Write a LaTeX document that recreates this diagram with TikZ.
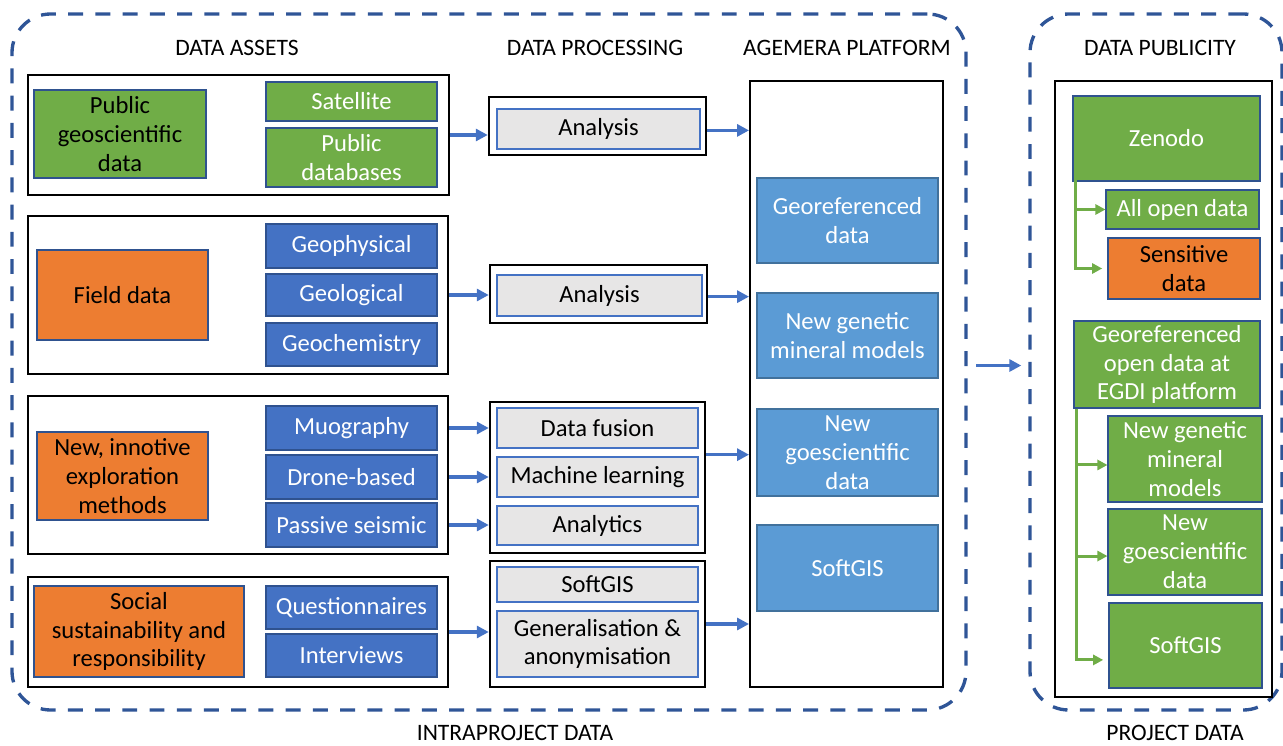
\documentclass[tikz,border=0pt]{standalone}
\usepackage{fontspec}
\setmainfont{Carlito}
\usepackage{tikz}
\usetikzlibrary{arrows.meta, positioning, calc}

\definecolor{dashblue}{HTML}{2F5597}
\definecolor{arrblue}{HTML}{4472C4}
\definecolor{boxgreen}{HTML}{70AD47}
\definecolor{boxorange}{HTML}{ED7D31}
\definecolor{boxblue}{HTML}{4472C4}
\definecolor{boxgrey}{HTML}{E7E6E6}
\definecolor{platblue}{HTML}{5B9BD5}
\definecolor{edgeblue}{HTML}{2F528F}
\definecolor{platedge}{HTML}{41719C}

\begin{document}
\begin{tikzpicture}[
    x=0.02cm, y=-0.02cm,
    sz/.style 2 args={minimum width=#1*0.02cm, minimum height=#2*0.02cm},
    txt/.style={font=\fontsize{14}{16.4}\selectfont},
    head/.style={font=\fontsize{13.4}{16}\selectfont, inner sep=1pt},
    cont/.style={rectangle, draw=dashblue, line width=1.9pt, dash pattern=on 8.5pt off 7pt, rounded corners=22pt},
    group/.style={rectangle, draw=black, line width=1.4pt},
    cell/.style={rectangle, txt, align=center, inner sep=1pt, line width=0.6pt},
    gbox/.style={cell, fill=boxgreen, draw=edgeblue, text=white},
    obox/.style={cell, fill=boxorange, draw=edgeblue, text=black},
    bbox/.style={cell, fill=boxblue, draw=edgeblue, text=white},
    pbox/.style={cell, fill=boxgrey, draw=arrblue, text=black},
    lbox/.style={cell, fill=platblue, draw=platedge, text=white},
    barr/.style={-{Triangle[length=6.8pt, width=6.8pt]}, draw=arrblue, line width=1.9pt},
    garr/.style={-{Triangle[length=5.8pt, width=5.8pt]}, draw=boxgreen, line width=1.7pt}
]
\useasboundingbox (0,0) rectangle (1283,746);

% Containers
\node[cont, sz={954}{696}] (intra) at (489,362) {};
\node[cont, sz={252}{696}] (proj) at (1156,362) {};
\node[head] (intralbl) at (515,733) {INTRAPROJECT DATA};
\node[head] (projlbl) at (1175,733) {PROJECT DATA};

% Column headers
\node[head] (hassets) at (237,48) {DATA ASSETS};
\node[head] (hproc) at (595,48) {DATA PROCESSING};
\node[head] (hplat) at (847,48) {AGEMERA PLATFORM};
\node[head] (hpub) at (1160,48) {DATA PUBLICITY};

% Data assets
\node[group, sz={421}{120}] (row1) at (238.5,135) {};
\node[gbox, text=black, sz={172}{88}] (pubgeo) at (120,134) {Public\\geoscientific\\data};
\node[gbox, sz={171}{39}] (sat) at (351.5,101.5) {Satellite};
\node[gbox, sz={171}{59}] (pubdb) at (351.5,157.5) {Public\\databases};

\node[group, sz={420}{158}] (row2) at (238,295) {};
\node[obox, sz={171}{90}] (field) at (122.5,295) {Field data};
\node[bbox, sz={171}{44}] (geophys) at (351.5,246) {Geophysical};
\node[bbox, sz={171}{42}] (geolog) at (351.5,295) {Geological};
\node[bbox, sz={171}{43}] (geochem) at (351.5,344.5) {Geochemistry};

\node[group, sz={420}{158}] (row3) at (238,475) {};
\node[obox, sz={171}{88}] (newexp) at (122.5,476) {New, innotive\\exploration\\methods};
\node[bbox, sz={171}{44}] (muo) at (351.5,428) {Muography};
\node[bbox, sz={171}{44}] (drone) at (351.5,477) {Drone-based};
\node[bbox, sz={171}{44}] (passive) at (351.5,525) {Passive seismic};

\node[group, sz={420}{110}] (row4) at (238,632) {};
\node[obox, sz={210}{91}] (social) at (139,631.5) {Social\\sustainability and\\responsibility};
\node[bbox, sz={171}{43}] (quest) at (351.5,607.5) {Questionnaires};
\node[bbox, sz={171}{43}] (interv) at (351.5,655.5) {Interviews};

% Data processing
\node[group, sz={217}{58}] (p1) at (597.5,126) {};
\node[pbox, sz={203}{40}] (ana1) at (598.5,129) {Analysis};
\node[group, sz={217}{58}] (p2) at (598.5,294) {};
\node[pbox, sz={205}{41}] (ana2) at (599.5,295.5) {Analysis};
\node[group, sz={215}{151}] (p3) at (597.5,477.5) {};
\node[pbox, sz={201}{40}] (fusion) at (597.5,428) {Data fusion};
\node[pbox, sz={201}{40}] (ml) at (597.5,477) {Machine learning};
\node[pbox, sz={201}{39}] (analytics) at (597.5,525.5) {Analytics};
\node[group, sz={215}{126}] (p4) at (597.5,624) {};
\node[pbox, sz={201}{35}] (softp) at (597.5,584.5) {SoftGIS};
\node[pbox, sz={201}{66}] (genanon) at (597.5,644) {Generalisation \&\\anonymisation};

% Agemera platform
\node[group, line width=1.1pt, sz={193}{606}] (plat) at (846.5,384) {};
\node[lbox, sz={181}{85}] (georef) at (847.5,220.5) {Georeferenced\\data};
\node[lbox, sz={181}{85}] (genmod) at (847.5,335.5) {New genetic\\mineral models};
\node[lbox, sz={181}{87}] (goesci) at (847.5,452.5) {New\\goescientific\\data};
\node[lbox, sz={181}{86}] (softgis) at (847.5,568) {SoftGIS};

% Data publicity
\node[group, line width=1.1pt, sz={217}{616}] (pub) at (1163.5,389) {};
\node[gbox, sz={187}{85}] (zen) at (1166.5,138.5) {Zenodo};
\node[gbox, sz={153}{39}] (allopen) at (1182.5,209.5) {All open data};
\node[obox, sz={152}{61}] (sens) at (1184,268.5) {Sensitive\\data};
\node[gbox, sz={186}{87}] (egdi) at (1167,364.5) {Georeferenced\\open data at\\EGDI platform};
\node[gbox, sz={154}{86}] (pgen) at (1185,459) {New genetic\\mineral\\models};
\node[gbox, sz={154}{86}] (pgeo) at (1185,552) {New\\goescientific\\data};
\node[gbox, sz={153}{85}] (pgis) at (1185.5,645.5) {SoftGIS};

% Assets -> processing
\draw[barr] (row1.east) -- (row1.east -| p1.west);
\draw[barr] (row2.east) -- (row2.east -| p2.west);
\draw[barr] (muo.east -| row3.east) -- (muo.east -| p3.west);
\draw[barr] (drone.east -| row3.east) -- (drone.east -| p3.west);
\draw[barr] (passive.east -| row3.east) -- (passive.east -| p3.west);
\draw[barr] (row4.east) -- (row4.east -| p4.west);

% Processing -> platform
\draw[barr] ([yshift=-2.5pt]p1.east) -- ([yshift=-2.5pt]p1.east -| plat.west);
\draw[barr] ([yshift=-1.5pt]p2.east) -- ([yshift=-1.5pt]p2.east -| plat.west);
\draw[barr] ([yshift=13pt]p3.east) -- ([yshift=13pt]p3.east -| plat.west);
\draw[barr] (p4.east) -- (p4.east -| plat.west);

% Intraproject -> project
\draw[barr, shorten <=5pt, shorten >=4pt] ([yshift=-2pt]intra.east) -- ([yshift=-2pt]intra.east -| proj.west);

% Publicity branches
\draw[garr] ([xshift=1.7pt, yshift=10pt]zen.south west) |- (allopen.west);
\draw[garr, shorten >=3pt] ([xshift=1.7pt, yshift=10pt]zen.south west) |- (sens.west);
\draw[garr] ([xshift=1.7pt]egdi.south west) |- ([yshift=-3.4pt]pgen.west);
\draw[garr] ([xshift=1.7pt]egdi.south west) |- ([yshift=-2.3pt]pgeo.west);
\draw[garr, shorten >=3pt] ([xshift=1.7pt]egdi.south west) |- ([yshift=-8.2pt]pgis.west);
\end{tikzpicture}
\end{document}
